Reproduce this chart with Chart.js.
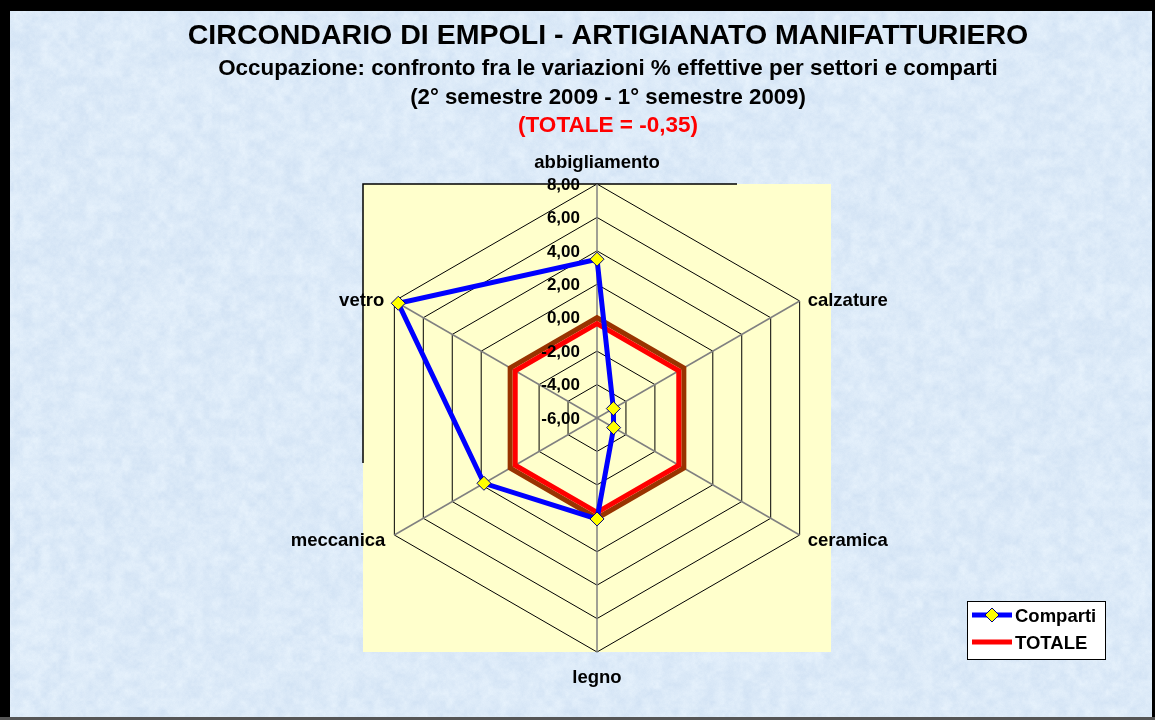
<!DOCTYPE html>
<html>
<head>
<meta charset="utf-8">
<title>Circondario di Empoli - Artigianato manifatturiero</title>
<script src="https://cdn.jsdelivr.net/npm/chart.js@4/dist/chart.umd.min.js"></script>
<style>
  html, body { margin: 0; padding: 0; background: #dceaf8; }
  #wrap { width: 1155px; height: 720px; }
</style>
</head>
<body>
<div id="wrap"><canvas id="radar" width="1155" height="720"></canvas></div>
<script>
// Settori / comparti and their % change in employment
const sectors = ['abbigliamento', 'calzature', 'ceramica', 'legno', 'meccanica', 'vetro'];
const comparti = [3.50, -4.87, -4.85, 0.04, 1.81, 7.73];
const totale = [-0.35, -0.35, -0.35, -0.35, -0.35, -0.35];
const zeroLine = [0, 0, 0, 0, 0, 0];

const scaleMin = -6;
const scaleMax = 8;
const scaleStep = 2;

const titleLines = [
    { text: 'CIRCONDARIO DI EMPOLI - ARTIGIANATO MANIFATTURIERO', width: 841, y: 36, color: '#000' },
    { text: 'Occupazione: confronto fra le variazioni % effettive per settori e comparti', width: 780, y: 69, color: '#000' },
    { text: '(2° semestre 2009 - 1° semestre 2009)', width: 396, y: 98, color: '#000' },
    { text: '(TOTALE = -0,35)', width: 180, y: 126, color: '#ff0000' }
];

const FONT = '"Liberation Sans", Arial, sans-serif';
const fmt = v => v.toFixed(2).replace('.', ',');

// font size that makes a bold string reach a given width
function fitSize(ctx, text, width) {
    ctx.font = 'bold 20px ' + FONT;
    return 20 * width / ctx.measureText(text).width;
}

// paper-like mottled blue backdrop (hash based value noise, same every run)
function hash(ix, iy) {
    let h = Math.imul(ix, 374761393) + Math.imul(iy, 668265263);
    h = Math.imul(h ^ (h >>> 13), 1274126177);
    return ((h ^ (h >>> 16)) >>> 0) / 4294967295;
}
function noise(x, y) {
    const ix = Math.floor(x), iy = Math.floor(y);
    const fx = x - ix, fy = y - iy;
    const sx = fx * fx * (3 - 2 * fx), sy = fy * fy * (3 - 2 * fy);
    const a = hash(ix, iy), b = hash(ix + 1, iy);
    const c = hash(ix, iy + 1), d = hash(ix + 1, iy + 1);
    return a + (b - a) * sx + (c - a) * sy + (a - b - c + d) * sx * sy;
}
function makePaper(w, h) {
    const cv = document.createElement('canvas');
    cv.width = w; cv.height = h;
    const c = cv.getContext('2d');
    const img = c.createImageData(w, h);
    for (let y = 0; y < h; y++) {
        for (let x = 0; x < w; x++) {
            const n = noise(x / 9, y / 9) * 0.55 + noise(x / 3, y / 3) * 0.3 + hash(x, y) * 0.15 - 0.5;
            const k = (y * w + x) * 4;
            img.data[k] = 220 + n * 24;
            img.data[k + 1] = 234 + n * 18;
            img.data[k + 2] = 248 + n * 9;
            img.data[k + 3] = 255;
        }
    }
    c.putImageData(img, 0, 0);
    return cv;
}
let paper = null;

const backdrop = {
    id: 'backdrop',
    beforeDraw(chart) {
        const { ctx, chartArea: a } = chart;
        if (!paper) paper = makePaper(chart.width, chart.height);
        ctx.save();
        ctx.drawImage(paper, 0, 0);
        // plot area
        ctx.fillStyle = '#ffffcc';
        ctx.fillRect(a.left, a.top, a.right - a.left, a.bottom - a.top);
        ctx.strokeStyle = '#000';
        ctx.lineWidth = 1.5;
        ctx.beginPath();
        ctx.moveTo(a.left, a.top + 279);
        ctx.lineTo(a.left, a.top);
        ctx.lineTo(a.left + 374, a.top);
        ctx.stroke();
        ctx.restore();
    },
    afterDraw(chart) {
        const { ctx } = chart;
        const r = chart.scales.r;
        ctx.save();

        // titles
        ctx.textAlign = 'center';
        ctx.textBaseline = 'middle';
        titleLines.forEach(l => {
            const size = fitSize(ctx, l.text, l.width);
            ctx.font = 'bold ' + size.toFixed(2) + 'px ' + FONT;
            ctx.fillStyle = l.color;
            ctx.fillText(l.text, 608, l.y);
        });

        // tick labels along the first spoke
        ctx.font = 'bold 17px ' + FONT;
        ctx.fillStyle = '#000';
        ctx.textAlign = 'right';
        r.ticks.forEach(t => {
            const d = r.getDistanceFromCenterForValue(t.value);
            ctx.fillText(fmt(t.value), r.xCenter - 17, r.yCenter - d + 1);
        });

        // category labels
        ctx.font = 'bold 18.5px ' + FONT;
        const place = [
            { align: 'center', dx: 0, dy: -21 },
            { align: 'left', dx: 8, dy: 0 },
            { align: 'left', dx: 8, dy: 6 },
            { align: 'center', dx: 0, dy: 26 },
            { align: 'right', dx: -9, dy: 6 },
            { align: 'right', dx: -10, dy: 0 }
        ];
        sectors.forEach((s, i) => {
            const p = r.getPointPosition(i, r.drawingArea);
            ctx.textAlign = place[i].align;
            ctx.fillText(s, p.x + place[i].dx, p.y + place[i].dy);
        });

        // legend box
        const lx = 967, ly = 601, lw = 138, lh = 58;
        ctx.fillStyle = '#fff';
        ctx.fillRect(lx, ly, lw, lh);
        ctx.strokeStyle = '#000';
        ctx.lineWidth = 1;
        ctx.strokeRect(lx + 0.5, ly + 0.5, lw, lh);
        const shown = chart.data.datasets.filter(ds => ds.inLegend);
        shown.forEach((ds, i) => {
            const y = ly + 14 + i * 27;
            ctx.strokeStyle = ds.borderColor;
            ctx.lineWidth = ds.borderWidth;
            ctx.beginPath();
            ctx.moveTo(lx + 5, y);
            ctx.lineTo(lx + 45, y);
            ctx.stroke();
            if (ds.pointRadius) {
                const m = 7;
                ctx.beginPath();
                ctx.moveTo(lx + 25, y - m);
                ctx.lineTo(lx + 25 + m, y);
                ctx.lineTo(lx + 25, y + m);
                ctx.lineTo(lx + 25 - m, y);
                ctx.closePath();
                ctx.fillStyle = ds.pointBackgroundColor;
                ctx.fill();
                ctx.strokeStyle = ds.pointBorderColor;
                ctx.lineWidth = 1;
                ctx.stroke();
            }
            ctx.fillStyle = '#000';
            ctx.font = 'bold 18.5px ' + FONT;
            ctx.textAlign = 'left';
            ctx.fillText(ds.label, lx + 48, y + 2);
        });

        // frame
        ctx.fillStyle = '#000';
        ctx.fillRect(0, 0, 10, chart.height);
        ctx.fillRect(0, 0, chart.width, 11);
        ctx.fillRect(chart.width - 3, 0, 3, chart.height);
        ctx.fillStyle = '#555';
        ctx.fillRect(0, chart.height - 3, chart.width, 3);
        ctx.restore();
    }
};

new Chart(document.getElementById('radar'), {
    type: 'radar',
    data: {
        labels: sectors,
        datasets: [
            {
                label: 'Comparti',
                inLegend: true,
                data: comparti,
                borderColor: '#0000ff',
                borderWidth: 5,
                pointStyle: 'rectRot',
                pointRadius: 7,
                pointBackgroundColor: '#ffff00',
                pointBorderColor: '#000080',
                pointBorderWidth: 1,
                fill: false
            },
            {
                label: 'TOTALE',
                inLegend: true,
                data: totale,
                borderColor: '#ff0000',
                borderWidth: 5,
                pointRadius: 0,
                fill: false
            },
            {
                label: 'zero',
                data: zeroLine,
                borderColor: '#993300',
                borderWidth: 5,
                pointRadius: 0,
                fill: false
            }
        ]
    },
    options: {
        responsive: false,
        animation: false,
        devicePixelRatio: 1,
        layout: { padding: { left: 363, right: 324, top: 184, bottom: 68 } },
        plugins: {
            legend: { display: false },
            title: { display: false },
            tooltip: { enabled: false }
        },
        elements: { line: { tension: 0, borderJoinStyle: 'miter' } },
        scales: {
            r: {
                min: scaleMin,
                max: scaleMax,
                ticks: { stepSize: scaleStep, display: false },
                pointLabels: { display: false },
                grid: { color: '#000', lineWidth: 1, circular: false },
                angleLines: { color: '#808080', lineWidth: 1.5 }
            }
        }
    },
    plugins: [backdrop]
});
</script>
</body>
</html>
